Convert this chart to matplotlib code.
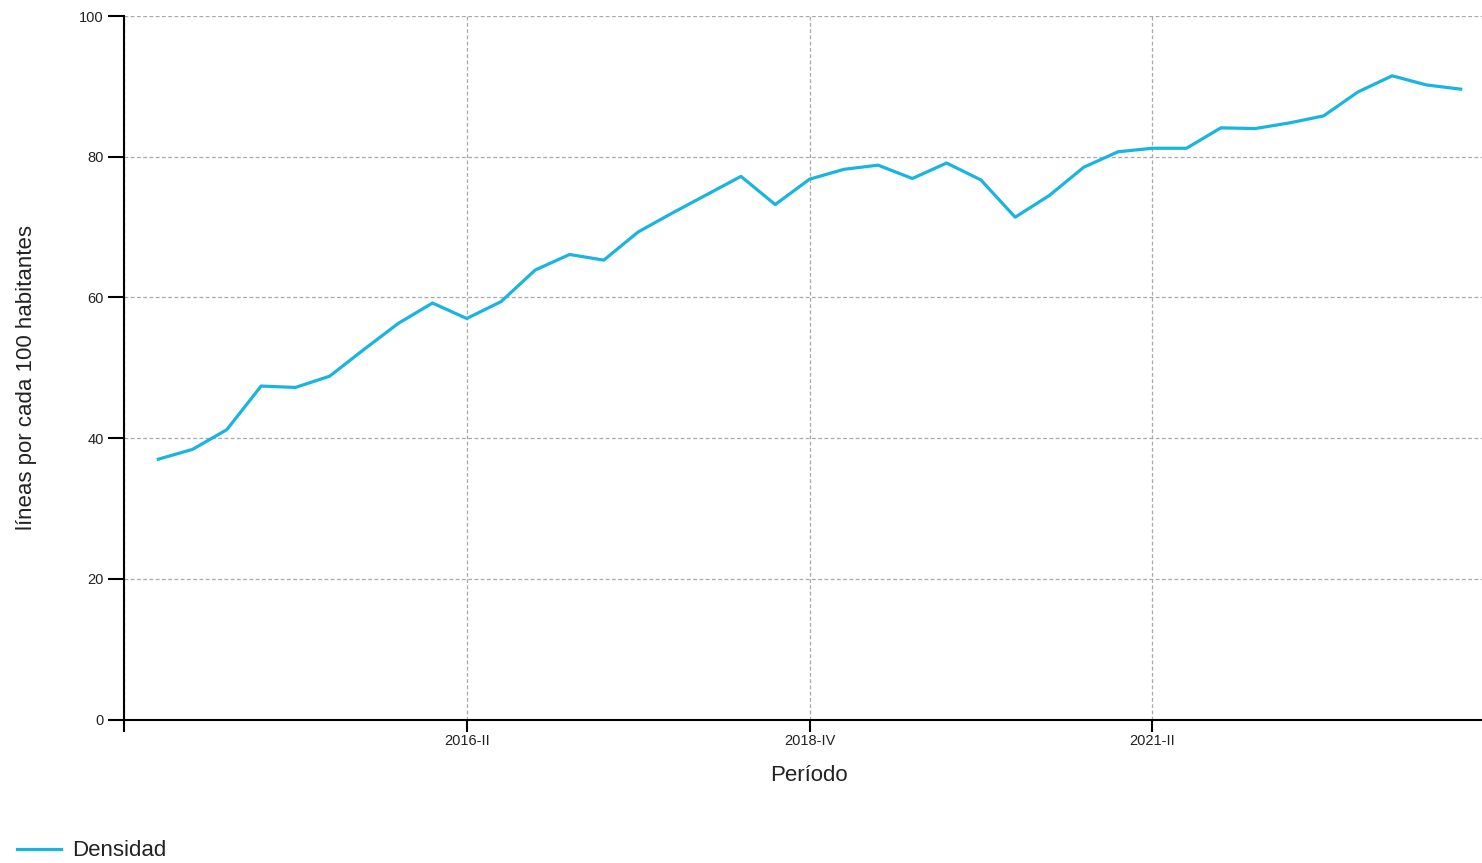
import matplotlib
matplotlib.use("Agg")
import matplotlib.pyplot as plt
from matplotlib.lines import Line2D

plt.rcParams['font.family'] = ['Liberation Sans', 'DejaVu Sans']

periods = [f"{y}-{q}" for y in range(2014, 2024) for q in ["I", "II", "III", "IV"]][:39]
densidad = [37.0, 38.4, 41.2, 47.4, 47.2, 48.8, 52.6, 56.3, 59.2, 57.0,
            59.4, 63.9, 66.1, 65.3, 69.3, 72.0, 74.6, 77.2, 73.2, 76.8,
            78.2, 78.8, 76.9, 79.1, 76.7, 71.4, 74.5, 78.5, 80.7, 81.2,
            81.2, 84.1, 84.0, 84.8, 85.8, 89.2, 91.5, 90.2, 89.6]
xtick_labels = ["2016-II", "2018-IV", "2021-II"]
yticks = [0, 20, 40, 60, 80, 100]

W, H = 1482, 863
fig = plt.figure(figsize=(W / 100, H / 100), dpi=100)
ax = fig.add_axes([124 / W, 1 - 719.5 / H, (1495 - 124) / W, (719.5 - 16) / H])

x = list(range(len(densidad)))
ax.plot(x, densidad, color="#1ab4e0", lw=2.3, solid_joinstyle="round")

ax.set_xlim(-1, 39)
ax.set_ylim(0, 100)
tick_pos = [periods.index(l) for l in xtick_labels]
ax.set_xticks([-1] + tick_pos)
ax.set_xticklabels([""] + xtick_labels, fontsize=10.5, color="#222222")
ax.set_yticks(yticks)
ax.set_yticklabels([str(v) for v in yticks], fontsize=10.5, color="#222222")
ax.tick_params(axis="x", length=8.6, width=1.5, color="black", pad=2)
ax.tick_params(axis="y", length=11.5, width=1.5, color="black", pad=3)

ax.grid(True, color="#a8a8a8", linestyle=(0, (3, 2)), linewidth=0.9)
for s in ["top", "right"]:
    ax.spines[s].set_visible(False)
for s in ["left", "bottom"]:
    ax.spines[s].set_linewidth(1.5)

fig.text(809 / W, 1 - 775 / H, "Período", fontsize=16, color="#222222",
         ha="center", va="center")
fig.text(27 / W, 1 - 378 / H, "líneas por cada 100 habitantes", rotation=90,
         fontsize=16, color="#222222", ha="center", va="center")

fig.add_artist(Line2D([17 / W, 61 / W], [1 - 849 / H, 1 - 849 / H],
                      color="#1ab4e0", lw=2.3, transform=fig.transFigure))
fig.text(72 / W, 1 - 850 / H, "Densidad", fontsize=16, color="#222222",
         ha="left", va="center")

fig.savefig("out.png", dpi=100)
